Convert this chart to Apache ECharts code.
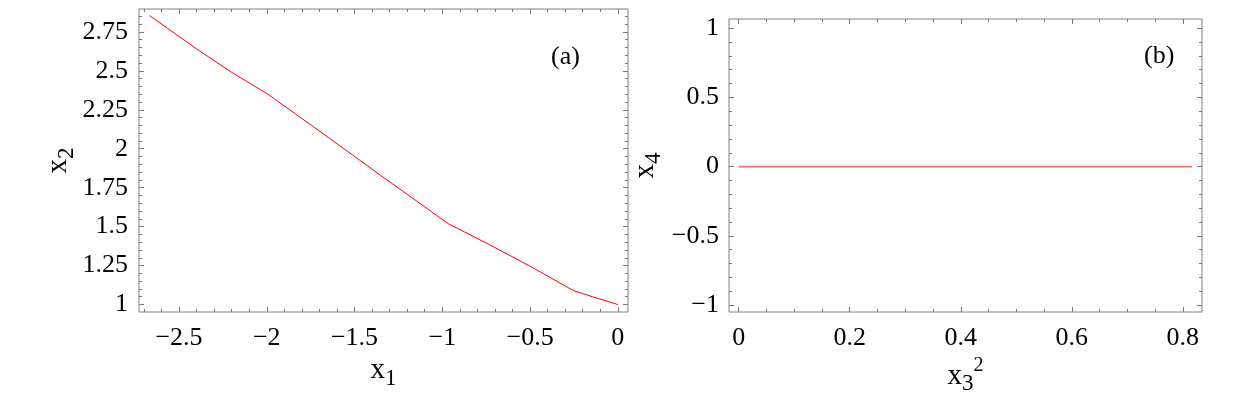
<!DOCTYPE html>
<html>
<head>
<meta charset="utf-8">
<script src="https://cdn.jsdelivr.net/npm/echarts@6/dist/echarts.min.js"></script>
<style>
html,body{margin:0;padding:0;background:#fff;}
#chart{width:1250px;height:396px;}
</style>
</head>
<body>
<div id="chart"></div>
<script>
// Panel (a) data: x1 vs x2
const x1Values = [-2.668, -2.4, -2.2, -2.0, -1.678, -1.355, -0.966, -0.728, -0.5, -0.254, -0.145, 0];
const x2Values = [2.855, 2.641, 2.490, 2.355, 2.096, 1.832, 1.519, 1.382, 1.246, 1.090, 1.050, 1.0];
// Panel (b) data: x3^2 vs x4
const x3SqValues = [0, 0.8167];
const x4Values = [0, 0];
// Tick labels
const xTicksA = [-2.5, -2, -1.5, -1, -0.5, 0];
const yTicksA = [1, 1.25, 1.5, 1.75, 2, 2.25, 2.5, 2.75];
const xTicksB = [0, 0.2, 0.4, 0.6, 0.8];
const yTicksB = [-1, -0.5, 0, 0.5, 1];

const FONT = 'Liberation Serif';
const FS = 26;
const TICK = '#7a7a7a';

function minors(min, max, step, majors) {
  const out = [];
  const k0 = Math.ceil(min / step - 1e-9), k1 = Math.floor(max / step + 1e-9);
  for (let k = k0; k <= k1; k++) {
    const v = +(k * step).toFixed(6);
    if (!majors.some(m => Math.abs(m - v) < 1e-9)) out.push(v);
  }
  return out;
}
const fmt = v => String(v).replace('-', '\u2212');

function axes(gridIndex, min, max, majors, minorStep, pos, mirrorPos, labelMargin, nameOpts) {
  const minorVals = minors(min, max, minorStep, majors);
  const base = {
    type: 'value', gridIndex, min, max,
    axisLine: { show: false, onZero: false }, splitLine: { show: false }
  };
  const tick = (vals, len) => ({ show: true, inside: true, length: len, lineStyle: { color: TICK, width: 1 }, customValues: vals });
  const major = Object.assign({}, base, {
    position: pos,
    axisTick: tick(majors, 5),
    axisLabel: { show: true, customValues: majors, formatter: fmt, fontFamily: FONT, fontSize: FS, color: '#000', margin: labelMargin }
  }, nameOpts || {});
  const minor = Object.assign({}, base, { position: pos, axisTick: tick(minorVals, 3), axisLabel: { show: false } });
  const mMajor = Object.assign({}, base, { position: mirrorPos, axisTick: tick(majors, 5), axisLabel: { show: false } });
  const mMinor = Object.assign({}, base, { position: mirrorPos, axisTick: tick(minorVals, 3), axisLabel: { show: false } });
  return [major, minor, mMajor, mMinor];
}

const richName = {
  b: { fontFamily: FONT, fontSize: 29, color: '#000', lineHeight: 40, verticalAlign: 'middle' },
  s: { fontFamily: FONT, fontSize: 23, color: '#000', lineHeight: 26, verticalAlign: 'bottom' },
  p: { fontFamily: FONT, fontSize: 20, color: '#000', lineHeight: 26, verticalAlign: 'top' }
};

const xA = axes(0, -2.728, 0.058, xTicksA, 0.1, 'bottom', 'top', 13,
  { name: '{b|x}{s|1}', nameLocation: 'middle', nameGap: 37, nameTextStyle: { rich: richName } });
const yA = axes(0, 0.952, 2.897, yTicksA, 0.05, 'left', 'right', 11,
  { name: '{b|x}{s|2}', nameLocation: 'middle', nameGap: 60, nameRotate: 90, nameTextStyle: { rich: richName } });
const xB = axes(1, -0.0174, 0.8345, xTicksB, 0.05, 'bottom', 'top', 13,
  { name: '{b|x}{s|3}{p|2}', nameLocation: 'middle', nameGap: 37, nameTextStyle: { rich: richName } });
const yB = axes(1, -1.05, 1.066, yTicksB, 0.1, 'left', 'right', 10,
  { name: '{b|x}{s|4}', nameLocation: 'middle', nameGap: 64, nameRotate: 90, nameTextStyle: { rich: richName } });

const chart = echarts.init(document.getElementById('chart'), null, { renderer: 'canvas' });
chart.setOption({
  animation: false,
  backgroundColor: '#fff',
  grid: [
    { left: 139, top: 9, width: 489, height: 303, show: true, borderColor: '#808080', borderWidth: 1, backgroundColor: 'transparent', containLabel: false, outerBoundsMode: 'none' },
    { left: 729, top: 19, width: 473, height: 293, show: true, borderColor: '#808080', borderWidth: 1, backgroundColor: 'transparent', containLabel: false, outerBoundsMode: 'none' }
  ],
  xAxis: xA.concat(xB),
  yAxis: yA.concat(yB),
  graphic: [
    { type: 'text', left: 551, top: 44, style: { text: '(a)', font: '26px "Liberation Serif"', fill: '#000' } },
    { type: 'text', left: 1144, top: 43, style: { text: '(b)', font: '26px "Liberation Serif"', fill: '#000' } }
  ],
  series: [
    {
      type: 'line', xAxisIndex: 0, yAxisIndex: 0, showSymbol: false, symbol: 'none',
      lineStyle: { color: '#ff0000', width: 1 },
      data: x1Values.map((x, i) => [x, x2Values[i]])
    },
    {
      type: 'line', xAxisIndex: 4, yAxisIndex: 4, showSymbol: false, symbol: 'none',
      lineStyle: { color: '#ff6e6e', width: 1.6 },
      data: x3SqValues.map((x, i) => [x, x4Values[i]])
    }
  ]
});
</script>
</body>
</html>
